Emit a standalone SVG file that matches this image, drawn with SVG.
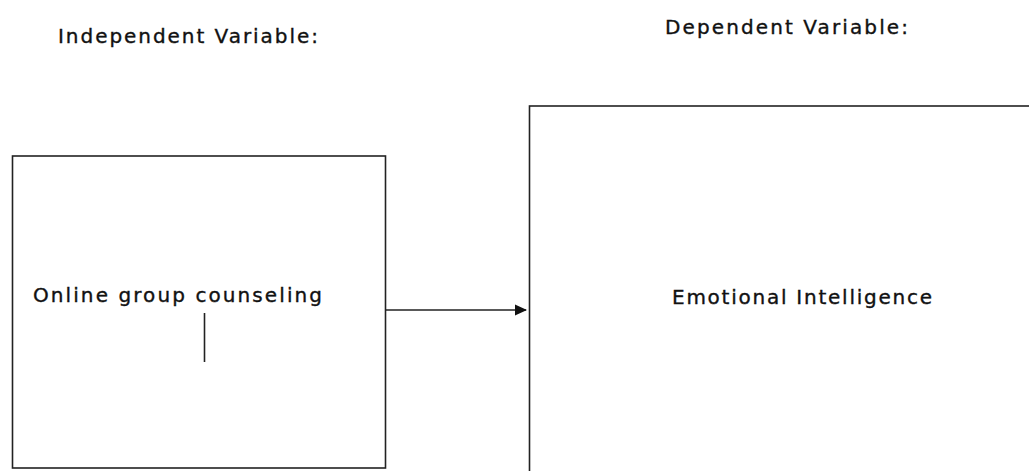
<svg xmlns="http://www.w3.org/2000/svg" width="1029" height="471" viewBox="0 0 1029 471">
<style>
.box{fill:#fff;stroke:#222;stroke-width:1.6}
.t{font-family:"DejaVu Sans","Liberation Sans",Arial,sans-serif;font-size:20px;fill:#111;stroke:#111;stroke-width:0.35}
.conn{stroke:#222;stroke-width:1.6;fill:none}
</style>
<defs>
<marker id="ah" markerWidth="12" markerHeight="12" refX="11" refY="6" orient="auto" markerUnits="userSpaceOnUse">
<path d="M0,0.5 L12,6 L0,11.5 Z" fill="#111"/>
</marker>
</defs>
<rect width="1029" height="471" fill="#fff"/>
<text class="t" x="58" y="43" textLength="260" lengthAdjust="spacing">Independent Variable:</text>
<text class="t" x="665" y="34" textLength="243" lengthAdjust="spacing">Dependent Variable:</text>
<g id="iv">
<rect class="box" x="12.5" y="156" width="373" height="312"/>
<text class="t" x="33" y="302" textLength="289" lengthAdjust="spacing">Online group counseling</text>
<line class="conn" x1="204.5" y1="313" x2="204.5" y2="362"/>
</g>
<g id="dv">
<rect class="box" x="529.5" y="106" width="520" height="400"/>
<text class="t" x="672" y="304" textLength="260" lengthAdjust="spacing">Emotional Intelligence</text>
</g>
<g id="connectors">
<line class="conn" x1="386" y1="310" x2="526" y2="310" marker-end="url(#ah)"/>
</g>
</svg>
